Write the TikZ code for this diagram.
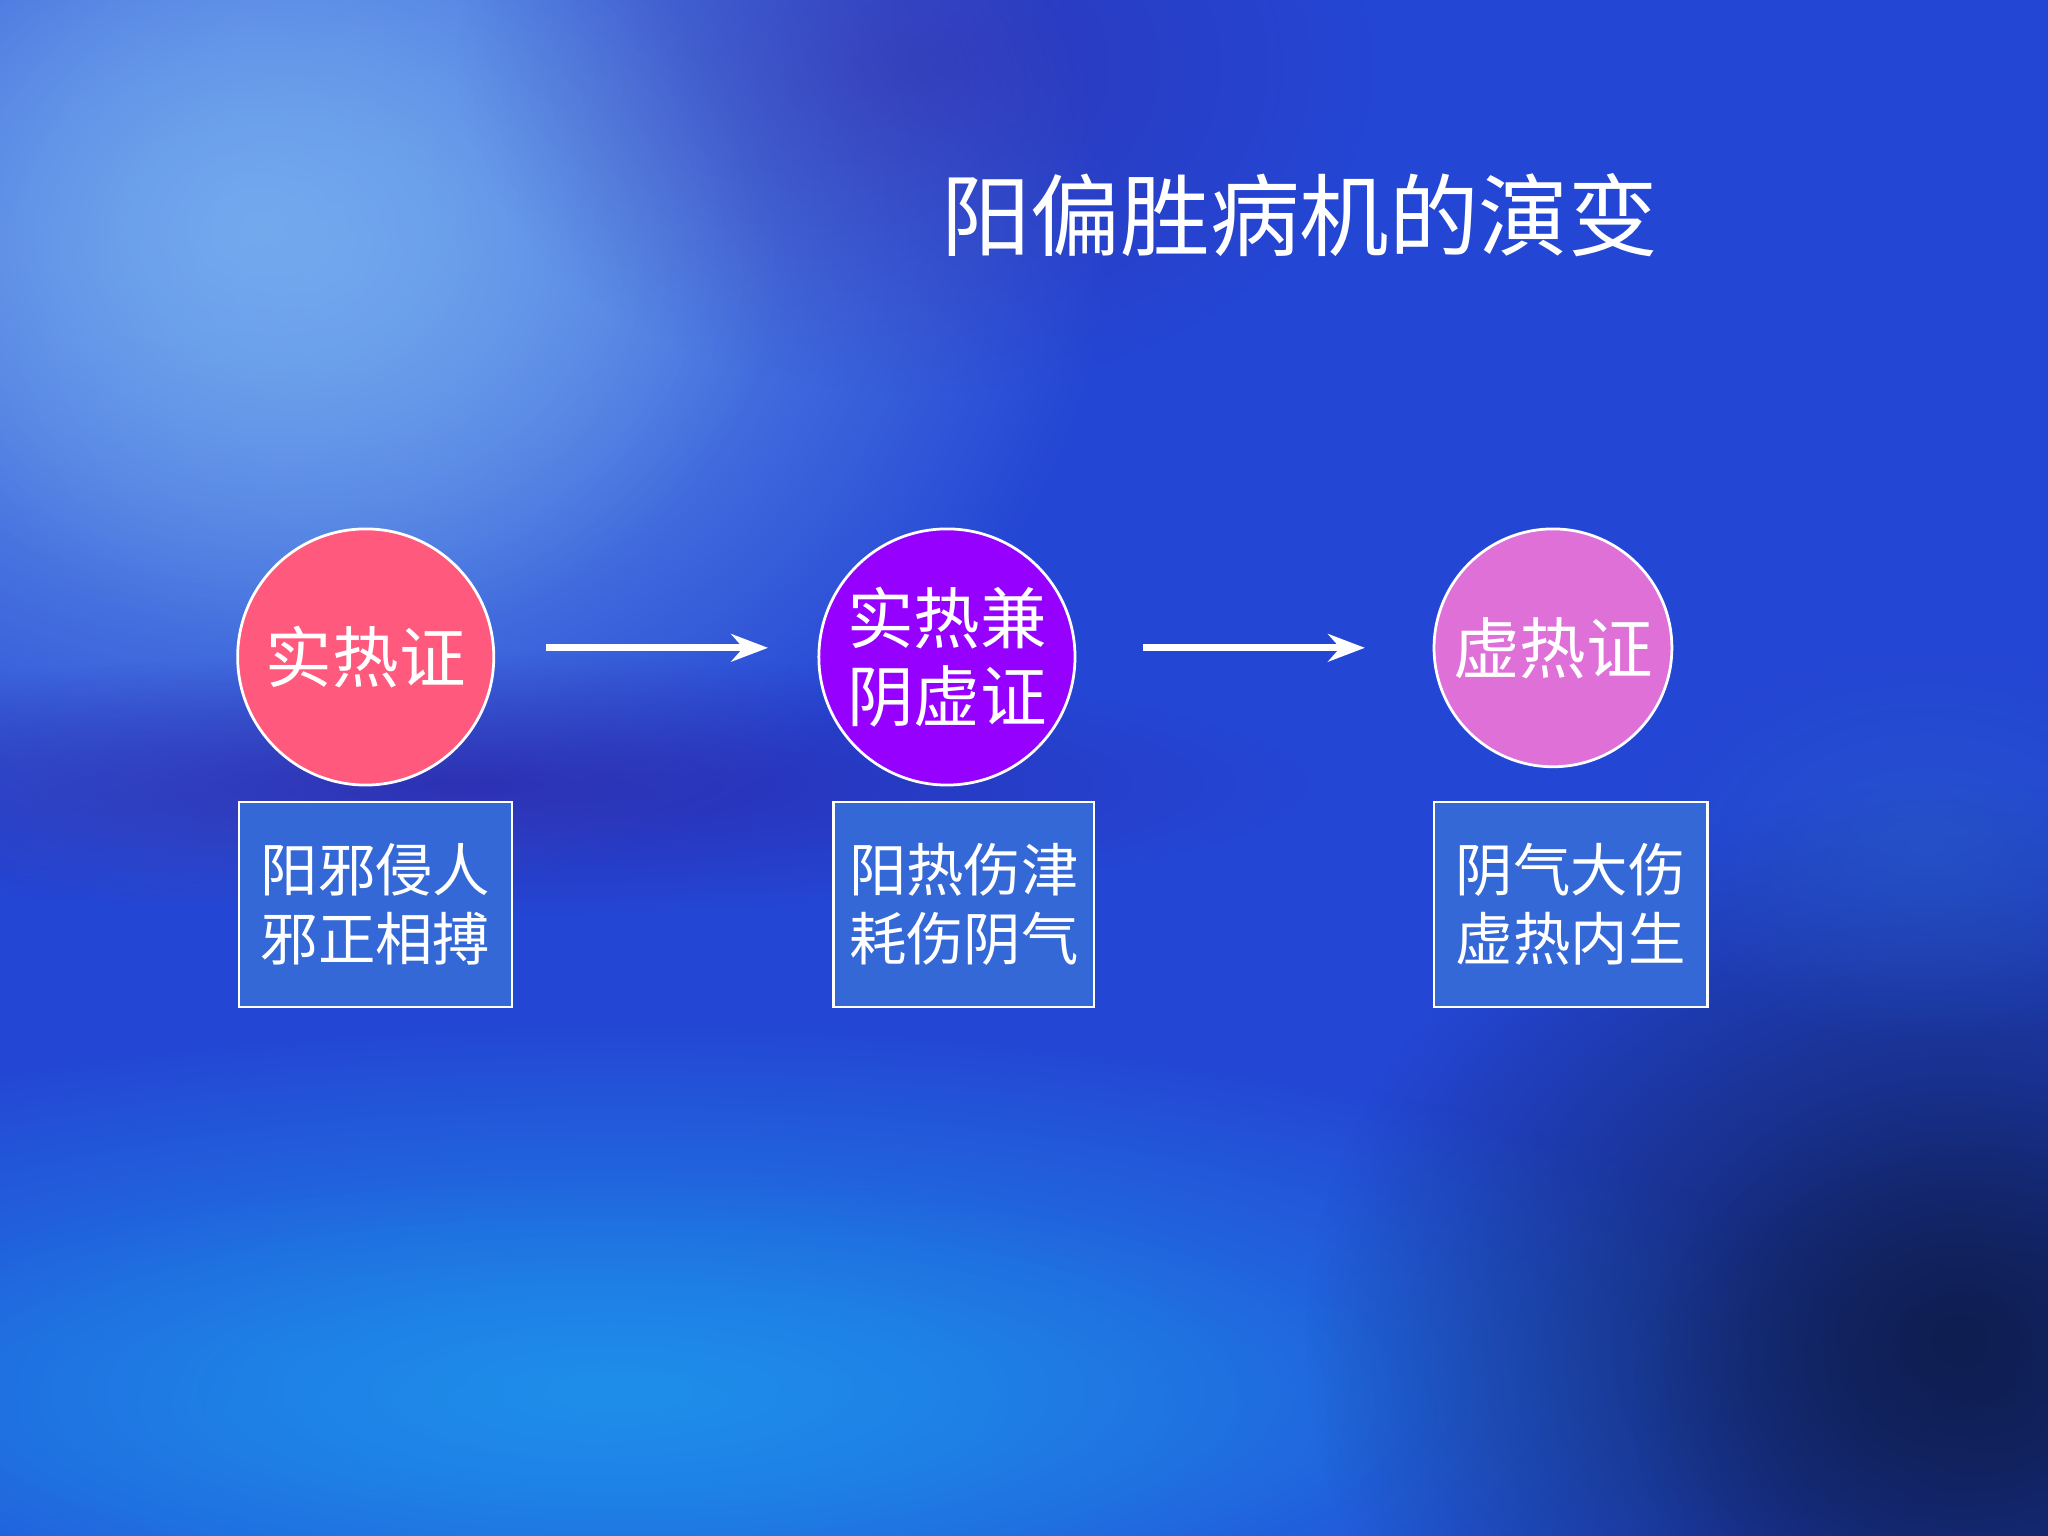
\documentclass[tikz,border=0pt]{standalone}
\usepackage{fontspec}
\newfontfamily\cjk{Noto Sans CJK SC}
\usetikzlibrary{fadings,arrows.meta}
\tikzfading[name=soft,inner color=transparent!0,outer color=transparent!100]
\definecolor{bgbase}{RGB}{36,70,212}
\definecolor{c1}{RGB}{255,90,126}
\definecolor{c2}{RGB}{150,0,255}
\definecolor{c3}{RGB}{222,112,216}
\definecolor{boxc}{RGB}{52,104,214}
\definecolor{bA}{RGB}{115,170,238}
\definecolor{bB}{RGB}{80,130,230}
\definecolor{bC}{RGB}{30,142,234}
\definecolor{bD}{RGB}{45,40,170}
\definecolor{bE}{RGB}{55,40,160}
\definecolor{bF}{RGB}{15,30,80}
\definecolor{bG}{RGB}{40,90,200}
\tikzset{
 blob/.style={path fading=soft,fill=#1},
 circ/.style={circle,draw=white,line width=0.6pt,text=white,font=\cjk\fontsize{14.5}{17}\selectfont,align=center,inner sep=0pt},
 lbl/.style={draw=white,line width=0.6pt,fill=boxc,text=white,font=\cjk\fontsize{12.5}{15}\selectfont,align=center},
 arr/.style={white,line width=1.5pt,-{Stealth[length=8pt]}}
}
\begin{document}
\begin{tikzpicture}[x=0.01cm,y=-0.01cm]
\useasboundingbox (0,0) rectangle (1568,1176);
\fill[bgbase] (0,0) rectangle (1568,1176);
\fill[blob=bA] (-450,-350) rectangle (850,700);
\fill[blob=bA,opacity=0.7] (-100,-100) rectangle (600,500);
\fill[blob=bC] (-500,780) rectangle (1450,1350);
\fill[blob=bC,opacity=0.6] (-200,900) rectangle (1100,1250);
\fill[blob=bD,opacity=0.8] (-300,500) rectangle (1000,700);
\fill[blob=bE,opacity=0.5] (350,-200) rectangle (1050,300);
\fill[blob=bF] (1000,600) rectangle (2000,1450);
\fill[blob=bF,opacity=0.6] (1250,850) rectangle (1800,1300);
\fill[blob=bG,opacity=0.6] (1250,500) rectangle (1700,800);
\node[text=white,font=\cjk\fontsize{19.5}{22}\selectfont] (title) at (995,165) {阳偏胜病机的演变};
\node[circ,fill=c1,minimum size=1.96cm] (a) at (280,503) {实热证};
\node[circ,fill=c2,minimum size=1.96cm] (b) at (725,503) {实热兼\\阴虚证};
\node[circ,fill=c3,minimum size=1.82cm] (c) at (1189,496) {虚热证};
\node[lbl,minimum width=2.09cm,minimum height=1.57cm] (la) at (287.5,692.5) {阳邪侵人\\邪正相搏};
\node[lbl,minimum width=1.96cm,minimum height=1.57cm] (lb) at (738,692.5) {阳热伤津\\耗伤阴气};
\node[lbl,minimum width=2.09cm,minimum height=1.57cm] (lc) at (1202.5,692.5) {阴气大伤\\虚热内生};
\coordinate (a1) at (418,496); \coordinate (a2) at (588,496);
\coordinate (b1) at (875,496); \coordinate (b2) at (1045,496);
\draw[arr] (a1) -- (a2);
\draw[arr] (b1) -- (b2);
\end{tikzpicture}
\end{document}
